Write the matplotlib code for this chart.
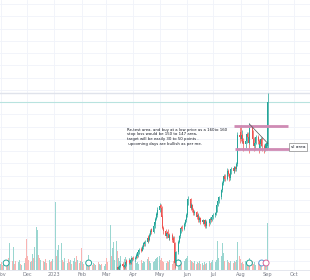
import matplotlib
matplotlib.use('Agg')
import matplotlib.pyplot as plt
import numpy as np
import pandas as pd

# daily candles 13 Mar 2023 - 1 Sep 2023 (older ones sit below the visible range)
opens = [81.5, 83.5, 82.5, 83.5, 84, 85.5, 84, 83.5, 85, 87, 86, 87.5, 86, 87.5, 89,
         88, 89, 91, 90, 92, 94, 93, 95, 97.5, 96.5, 98, 100.5, 99, 102, 105, 103.5, 107, 109, 111, 113,
         116, 118.5, 117, 112, 106, 104, 101, 103.5, 102.5, 100, 102, 99, 100, 97, 86, 92, 98, 101, 104, 106.5, 105, 108, 110,
         113, 120, 122, 117, 119, 116, 114, 115, 112, 113, 110, 111.5, 109, 110, 108, 110, 107, 109, 108.5, 111, 110, 112,
         113, 114, 116, 119, 121, 123, 127, 131, 133, 135, 133.5, 138, 136, 134, 137, 139.5, 138, 140, 139, 142, 158,
         160, 156, 158, 155, 153, 155, 159, 157, 154, 162, 160, 156, 152, 154, 157, 155, 151, 153, 156, 152, 150, 153, 151,
         152]
highs = [83, 84, 84, 85, 86, 86, 85, 86, 87.5, 88, 88, 88, 88.5, 89.5, 90,
         90, 91.5, 92, 93, 94.5, 95, 96, 98, 98.5, 99, 101, 101.5, 103, 105, 106, 108, 110, 112, 115, 117.5,
         120, 119.5, 118, 113, 107, 105, 104, 105, 103, 102.5, 103, 101, 101, 98, 93, 99, 102, 105, 107, 107.5, 109, 111, 114,
         121, 124, 122.5, 120, 119.5, 117, 116, 115.5, 114, 113.5, 112.5, 112, 111, 110.5, 111, 110.5, 110, 110, 112, 112, 113, 114,
         115, 117, 120, 122, 124, 128, 132, 134, 136, 136, 139.5, 139, 137, 138, 140, 141, 141, 141, 143, 160, 163,
         164, 161, 159, 156.5, 156, 160, 160, 158, 165, 163, 161, 157, 155, 158, 158, 156, 154, 157, 157, 153, 154, 154, 155,
         182]
lows = [80.5, 81.5, 81.5, 82, 83.5, 83.5, 82.5, 83, 84.5, 85.5, 85.5, 85.5, 85.5, 87, 87.5,
        87, 88, 89, 89.5, 91, 92, 92.5, 94, 95.5, 95.5, 97, 98, 98.5, 101, 102.5, 103, 106, 108, 110, 112,
        115, 116, 111, 105, 102.5, 100, 100, 101.5, 99, 99, 98, 98, 96, 83, 85, 91, 97, 100, 103, 104, 104.5, 107, 109,
        112, 119, 116, 116.5, 115, 113, 113, 111, 111, 109, 109, 108, 108, 107, 107, 106, 106, 107, 108, 109, 109.5, 111,
        112, 113, 115, 118, 120, 122, 126, 130, 132, 132, 133, 135, 132.5, 133, 136, 137, 137, 138, 138, 141, 154,
        155, 154, 154, 149, 151, 154, 155, 148, 153, 158, 155, 149, 150, 153, 153, 148, 150, 152, 149, 148, 149, 150, 150,
        151]
closes = [82, 82.5, 83.5, 84, 85, 84, 83.5, 85, 86.5, 86, 87, 86, 87.5, 88.5, 88,
          89, 90.5, 90, 92, 93.5, 93, 95, 97, 96.5, 98, 100, 99, 102, 104, 103.5, 107, 109, 111, 113.5, 116,
          118, 117, 112, 106, 104, 101, 103, 102.5, 100, 101.5, 99, 100, 97, 86, 92, 98, 101, 104, 106, 105, 108, 110, 113,
          120, 122, 117, 119, 116, 114, 115, 112, 113, 110, 111.5, 109, 110, 108, 110, 107, 109, 108.5, 111, 110, 112, 113,
          114, 116, 119, 121, 123, 127, 131, 133, 135, 133.5, 138, 136, 134, 137, 139, 138, 140, 139, 142, 158, 157,
          156, 158, 155, 153, 155, 159, 157, 154, 162, 160, 156, 152, 154, 157, 155, 151, 153, 156, 152, 150, 153, 151, 154,
          177]

# volume 1 Nov 2022 - 1 Sep 2023
vol_nov = [6, 8, 5, 7, 10, 6, 9, 12, 27, 9, 23, 8, 6, 9, 8, 10, 6, 5, 8, 7, 12, 31]
vol_dec = [14, 10, 8, 9, 16, 12, 23, 43, 40, 15, 12, 10, 14, 9, 8, 11, 7, 10, 12, 8, 9, 11]
vol_jan = [68, 14, 20, 12, 25, 27, 10, 8, 12, 9, 7, 11, 8, 10, 6, 9, 12, 8, 14, 10, 7, 9]
vol_feb = [22, 8, 6, 7, 19, 9, 15, 6, 5, 7, 4, 6, 5, 8, 6, 5, 7, 6, 4, 6]
vol_mar = [12, 8, 10, 45, 14, 22, 28, 10, 29, 19, 12, 9, 14, 10, 8, 11, 13, 9, 12, 10, 8, 14, 11]
vol_apr = [9, 7, 11, 8, 6, 10, 7, 9, 12, 8, 11, 13, 9, 7, 10, 8, 9, 11, 12, 13]
vol_may = [14, 10, 12, 9, 8, 11, 7, 9, 8, 10, 6, 8, 9, 18, 14, 11, 9, 8, 10, 7, 9, 11, 12]
vol_jun = [17, 14, 10, 9, 8, 7, 9, 6, 8, 7, 9, 6, 7, 5, 8, 6, 7, 6, 9, 7, 8, 10]
vol_jul = [8, 9, 10, 29, 12, 14, 27, 11, 17, 9, 10, 8, 7, 9, 8, 7, 9, 8, 10, 28, 14]
vol_aug = [11, 7, 8, 6, 9, 7, 8, 6, 12, 7, 9, 6, 8, 5, 7, 6, 8, 7, 9, 6, 7, 8, 9]
vol_sep = [47]

# up / down days before the first visible candle
early_dirs = ("uddud" "uudud" "uuddu" "ududu" "dd"
              "ddudu" "duuud" "duddu" "dduud" "du"
              "ududu" "uddud" "uddud" "uuddu" "du"
              "duduu" "duddu" "ddudu" "udduu"
              "dduuduuu")

levels = [163.5, 150.5]
level_start = ['2023-07-24', '2023-07-26']
level_end = ['2023-09-24', '2023-09-26']
trend_x = ['2023-08-11', '2023-09-01']
trend_y = [164.5, 153.5]

note = ("Re-test area. and buy at a low price as a 160to 160\n"
        "stop loss would be 150 to 147 area,\n"
        "target will be easily 30 to 50 points .\n"
        " upcoming days are bullish as per me.")

month_ticks = ['2022-11-01', '2022-12-01', '2023-01-01', '2023-02-01', '2023-03-01', '2023-04-01',
               '2023-05-01', '2023-06-01', '2023-07-01', '2023-08-01', '2023-09-01', '2023-10-01']
month_labels = ['Nov', 'Dec', '2023', 'Feb', 'Mar', 'Apr', 'May', 'Jun', 'Jul', 'Aug', 'Sep', 'Oct']

events = ['2022-11-07', '2023-02-09', '2023-05-22', '2023-08-11', '2023-08-25', '2023-08-30']
event_colors = ['#26a69a', '#26a69a', '#26a69a', '#26a69a', '#5b9bd5', '#d9669a']

UP, DOWN = '#26a69a', '#ef5350'
UP_V, DOWN_V = '#9ad6d0', '#f9b4b2'

cdates = pd.bdate_range('2023-03-13', '2023-09-01')
vdates = pd.bdate_range('2022-11-01', '2023-09-01')
vols = vol_nov + vol_dec + vol_jan + vol_feb + vol_mar + vol_apr + vol_may + vol_jun + vol_jul + vol_aug + vol_sep

o = np.array(opens); c = np.array(closes)
up = c >= o
dirs = list(early_dirs) + ['u' if u else 'd' for u in up]
vcols = [UP_V if d == 'u' else DOWN_V for d in dirs]
ccols = [UP if u else DOWN for u in up]

fig = plt.figure(figsize=(3.1, 2.8), dpi=100)
rect = [0, 10 / 280, 1, 270 / 280]
axv = fig.add_axes(rect)
axp = fig.add_axes(rect, sharex=axv)
axp.patch.set_visible(False)

# volume pane (units ~ pixels)
axv.bar(vdates, vols, width=1.0, color=vcols, linewidth=0, zorder=2)
axv.set_ylim(0, 270)
axv.set_yticks(np.arange(8.55, 270, 12.25))
axv.grid(True, color='#f0f3fa', linewidth=0.6, zorder=0)
axv.scatter(pd.to_datetime(events), [7] * len(events), s=18, marker='o',
            facecolor='white', edgecolor=event_colors, linewidth=0.7, zorder=5)

# candles
body_low = np.minimum(o, c)
body_h = np.maximum(np.abs(c - o), 0.4)
axp.vlines(cdates, lows, highs, colors=ccols, linewidth=0.5, zorder=3)
axp.bar(cdates, body_h, bottom=body_low, width=1.1, color=ccols, linewidth=0, zorder=3)
axp.set_ylim(82, 82 + 270 / 1.77)

axp.axhline(highs[-1], color='#e0e3eb', linewidth=1.0, zorder=1)
axp.axhline(closes[-1], color='#b8e3df', linewidth=0.8, zorder=1)

for lv, s, e in zip(levels, level_start, level_end):
    axp.plot(pd.to_datetime([s, e]), [lv, lv], color='#cf8bb4', linewidth=2, zorder=4,
             solid_capstyle='butt')
axp.plot(pd.to_datetime(trend_x), trend_y, color='#555555', linewidth=0.5, zorder=4)

axp.text(pd.Timestamp('2023-09-27'), 151.5, 'sl area', fontsize=3.2, color='#131722',
         ha='left', va='center', zorder=6,
         bbox=dict(boxstyle='square,pad=0.4', facecolor='white', edgecolor='#8a8a8a', linewidth=0.5))
axp.text(pd.Timestamp('2023-03-25'), 162.5, note, fontsize=2.8, color='#131722',
         ha='left', va='top', linespacing=1.25, zorder=6)

axv.set_xlim(pd.Timestamp('2022-10-31'), pd.Timestamp('2023-10-19'))
axv.set_xticks(pd.to_datetime(month_ticks))
axv.set_xticklabels(month_labels)
axv.tick_params(axis='x', length=0, labelsize=3.6, labelcolor='#787b86', pad=1.2)
axv.tick_params(axis='y', length=0, labelleft=False)
axp.tick_params(axis='both', length=0, labelleft=False, labelbottom=False)

for ax in (axv, axp):
    for sp in ax.spines.values():
        sp.set_visible(False)
axv.spines['bottom'].set_visible(True)
axv.spines['bottom'].set_color('#e0e3eb')
axv.spines['bottom'].set_linewidth(0.6)

fig.savefig('out.png', dpi=100)
